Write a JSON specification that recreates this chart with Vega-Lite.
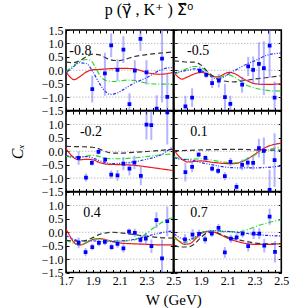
{
"$schema":"https://vega.github.io/schema/vega-lite/v6.json",
"padding":{"left":8,"top":2,"right":2,"bottom":2},
"title":{"text":"p (γ⃗ , K⁺ ) Σ⃗⁰","font":"Liberation Serif, DejaVu Sans, Noto Sans","fontSize":16,"fontWeight":"normal","color":"black","offset":5,"anchor":"middle"},
"config":{"view":{"stroke":"black","strokeWidth":1.6},"axis":{"domain":false,"grid":false,"tickColor":"black","tickWidth":1,"tickSize":-3,"labelFont":"Liberation Serif","labelFontSize":12,"labelColor":"black","labelFlush":false,"labelOverlap":false,"labelPadding":6,"titleFont":"Liberation Serif","titleFontSize":15,"titleFontWeight":"normal","titleColor":"black"}},
"datasets":{
"grid":[{"g":-1},{"g":0},{"g":1}],
"points":[
{"p":"-0.8","W":1.896,"C":-0.70,"lo":-1.2,"hi":-0.2},
{"p":"-0.8","W":1.99,"C":-0.12,"lo":-0.95,"hi":0.65},
{"p":"-0.8","W":2.037,"C":0.93,"lo":0.48,"hi":1.38},
{"p":"-0.8","W":2.084,"C":0.01,"lo":-0.39,"hi":0.41},
{"p":"-0.8","W":2.128,"C":0.77,"lo":0.27,"hi":1.27},
{"p":"-0.8","W":2.173,"C":-1.26,"lo":-1.66,"hi":-0.86},
{"p":"-0.8","W":2.213,"C":-0.01,"lo":-0.39,"hi":0.37},
{"p":"-0.8","W":2.255,"C":1.17,"lo":0.72,"hi":1.62},
{"p":"-0.8","W":2.30,"C":-0.08,"lo":-0.53,"hi":0.37},
{"p":"-0.8","W":2.376,"C":-1.43,"lo":-1.93,"hi":-0.93},
{"p":"-0.8","W":2.416,"C":0.43,"lo":-1.2,"hi":2.0},
{"p":"-0.8","W":2.455,"C":-0.99,"lo":-1.84,"hi":-0.14},
{"p":"-0.5","W":1.785,"C":-1.35,"lo":-1.75,"hi":-0.95},
{"p":"-0.5","W":1.835,"C":-1.02,"lo":-1.37,"hi":-0.67},
{"p":"-0.5","W":1.892,"C":-0.01,"lo":-0.13,"hi":0.11},
{"p":"-0.5","W":1.94,"C":-0.17,"lo":-0.29,"hi":-0.05},
{"p":"-0.5","W":1.984,"C":-0.48,"lo":-0.66,"hi":-0.30},
{"p":"-0.5","W":2.034,"C":-0.39,"lo":-0.64,"hi":-0.14},
{"p":"-0.5","W":2.08,"C":-1.0,"lo":-1.5,"hi":-0.5},
{"p":"-0.5","W":2.12,"C":-1.25,"lo":-1.55,"hi":-0.95},
{"p":"-0.5","W":2.208,"C":-0.54,"lo":-0.84,"hi":-0.24},
{"p":"-0.5","W":2.253,"C":0.14,"lo":-0.21,"hi":0.49},
{"p":"-0.5","W":2.29,"C":0.01,"lo":-0.49,"hi":0.51},
{"p":"-0.5","W":2.333,"C":0.24,"lo":-0.56,"hi":1.04},
{"p":"-0.5","W":2.37,"C":0.08,"lo":-0.92,"hi":1.08},
{"p":"-0.5","W":2.413,"C":0.92,"lo":-0.28,"hi":2.12},
{"p":"-0.5","W":2.45,"C":-1.02,"lo":-1.62,"hi":-0.42},
{"p":"-0.2","W":1.794,"C":-0.25,"lo":-0.5,"hi":0.0},
{"p":"-0.2","W":1.849,"C":-0.98,"lo":-1.13,"hi":-0.83},
{"p":"-0.2","W":1.893,"C":-0.43,"lo":-0.53,"hi":-0.33},
{"p":"-0.2","W":1.942,"C":-0.02,"lo":-0.12,"hi":0.08},
{"p":"-0.2","W":1.992,"C":-0.31,"lo":-0.41,"hi":-0.21},
{"p":"-0.2","W":2.037,"C":-0.87,"lo":-1.02,"hi":-0.72},
{"p":"-0.2","W":2.084,"C":-0.90,"lo":-1.1,"hi":-0.7},
{"p":"-0.2","W":2.128,"C":-0.46,"lo":-0.71,"hi":-0.21},
{"p":"-0.2","W":2.173,"C":-0.65,"lo":-0.9,"hi":-0.4},
{"p":"-0.2","W":2.21,"C":-0.42,"lo":-0.67,"hi":-0.17},
{"p":"-0.2","W":2.258,"C":-0.92,"lo":-1.27,"hi":-0.57},
{"p":"-0.2","W":2.30,"C":0.99,"lo":0.44,"hi":1.54},
{"p":"-0.2","W":2.336,"C":0.97,"lo":0.42,"hi":1.52},
{"p":"-0.2","W":2.455,"C":1.45,"lo":0.25,"hi":2.65},
{"p":"0.1","W":1.785,"C":-0.78,"lo":-1.13,"hi":-0.43},
{"p":"0.1","W":1.835,"C":-0.58,"lo":-0.78,"hi":-0.38},
{"p":"0.1","W":1.884,"C":-0.13,"lo":-0.23,"hi":-0.03},
{"p":"0.1","W":1.934,"C":-0.25,"lo":-0.35,"hi":-0.15},
{"p":"0.1","W":1.984,"C":-0.65,"lo":-0.75,"hi":-0.55},
{"p":"0.1","W":2.029,"C":-0.73,"lo":-0.85,"hi":-0.61},
{"p":"0.1","W":2.079,"C":-0.93,"lo":-1.08,"hi":-0.78},
{"p":"0.1","W":2.121,"C":-0.40,"lo":-0.55,"hi":-0.25},
{"p":"0.1","W":2.166,"C":-1.33,"lo":-1.48,"hi":-1.18},
{"p":"0.1","W":2.208,"C":-0.51,"lo":-0.71,"hi":-0.31},
{"p":"0.1","W":2.25,"C":-0.42,"lo":-0.62,"hi":-0.22},
{"p":"0.1","W":2.29,"C":-0.43,"lo":-0.68,"hi":-0.18},
{"p":"0.1","W":2.333,"C":0.12,"lo":-0.23,"hi":0.47},
{"p":"0.1","W":2.37,"C":0.01,"lo":-0.49,"hi":0.51},
{"p":"0.1","W":2.413,"C":-1.44,"lo":-2.19,"hi":-0.69},
{"p":"0.1","W":2.45,"C":-0.33,"lo":-1.33,"hi":0.67},
{"p":"0.4","W":1.794,"C":-0.40,"lo":-0.6,"hi":-0.2},
{"p":"0.4","W":1.846,"C":-0.74,"lo":-0.89,"hi":-0.59},
{"p":"0.4","W":1.896,"C":-0.55,"lo":-0.67,"hi":-0.43},
{"p":"0.4","W":1.945,"C":-0.40,"lo":-0.52,"hi":-0.28},
{"p":"0.4","W":1.99,"C":-0.36,"lo":-0.48,"hi":-0.24},
{"p":"0.4","W":2.04,"C":-0.55,"lo":-0.67,"hi":-0.43},
{"p":"0.4","W":2.084,"C":-0.43,"lo":-0.58,"hi":-0.28},
{"p":"0.4","W":2.128,"C":-0.60,"lo":-0.75,"hi":-0.45},
{"p":"0.4","W":2.17,"C":0.02,"lo":-0.1,"hi":0.14},
{"p":"0.4","W":2.213,"C":-0.02,"lo":-0.17,"hi":0.13},
{"p":"0.4","W":2.255,"C":-0.28,"lo":-0.43,"hi":-0.13},
{"p":"0.4","W":2.295,"C":-0.24,"lo":-0.44,"hi":-0.04},
{"p":"0.4","W":2.337,"C":-0.52,"lo":-0.77,"hi":-0.27},
{"p":"0.4","W":2.374,"C":0.45,"lo":0.15,"hi":0.75},
{"p":"0.4","W":2.416,"C":-0.97,"lo":-1.67,"hi":-0.27},
{"p":"0.4","W":2.455,"C":0.41,"lo":-0.14,"hi":0.96},
{"p":"0.7","W":1.782,"C":-0.27,"lo":-0.47,"hi":-0.07},
{"p":"0.7","W":1.838,"C":-0.09,"lo":-0.29,"hi":0.11},
{"p":"0.7","W":1.887,"C":-0.06,"lo":-0.21,"hi":0.09},
{"p":"0.7","W":1.932,"C":-0.27,"lo":-0.42,"hi":-0.12},
{"p":"0.7","W":1.982,"C":-0.05,"lo":-0.17,"hi":0.07},
{"p":"0.7","W":2.032,"C":0.16,"lo":0.01,"hi":0.31},
{"p":"0.7","W":2.079,"C":-0.75,"lo":-0.95,"hi":-0.55},
{"p":"0.7","W":2.124,"C":-0.24,"lo":-0.39,"hi":-0.09},
{"p":"0.7","W":2.167,"C":-0.19,"lo":-0.34,"hi":-0.04},
{"p":"0.7","W":2.211,"C":-0.05,"lo":-0.2,"hi":0.1},
{"p":"0.7","W":2.253,"C":-0.52,"lo":-0.72,"hi":-0.32},
{"p":"0.7","W":2.294,"C":-0.05,"lo":-0.25,"hi":0.15},
{"p":"0.7","W":2.336,"C":-0.05,"lo":-0.25,"hi":0.15},
{"p":"0.7","W":2.373,"C":-0.50,"lo":-0.75,"hi":-0.25},
{"p":"0.7","W":2.413,"C":0.58,"lo":0.28,"hi":0.88},
{"p":"0.7","W":2.453,"C":-0.73,"lo":-1.13,"hi":-0.33}
],
"curves":[
{"p":"-0.8","m":"m1","W":1.70,"C":-0.05},{"p":"-0.8","m":"m1","W":1.73,"C":-0.25},{"p":"-0.8","m":"m1","W":1.76,"C":-0.35},{"p":"-0.8","m":"m1","W":1.80,"C":-0.25},{"p":"-0.8","m":"m1","W":1.85,"C":-0.07},{"p":"-0.8","m":"m1","W":1.90,"C":0.02},{"p":"-0.8","m":"m1","W":1.95,"C":0.03},{"p":"-0.8","m":"m1","W":2.00,"C":0.05},{"p":"-0.8","m":"m1","W":2.10,"C":0.07},{"p":"-0.8","m":"m1","W":2.20,"C":0.06},{"p":"-0.8","m":"m1","W":2.25,"C":0.0},{"p":"-0.8","m":"m1","W":2.30,"C":-0.08},{"p":"-0.8","m":"m1","W":2.40,"C":-0.15},{"p":"-0.8","m":"m1","W":2.50,"C":-0.08},
{"p":"-0.8","m":"m2","W":1.70,"C":-0.05},{"p":"-0.8","m":"m2","W":1.75,"C":0.15},{"p":"-0.8","m":"m2","W":1.80,"C":0.32},{"p":"-0.8","m":"m2","W":1.85,"C":0.40},{"p":"-0.8","m":"m2","W":1.88,"C":0.38},{"p":"-0.8","m":"m2","W":1.92,"C":0.1},{"p":"-0.8","m":"m2","W":1.96,"C":-0.25},{"p":"-0.8","m":"m2","W":2.00,"C":-0.38},{"p":"-0.8","m":"m2","W":2.05,"C":-0.42},{"p":"-0.8","m":"m2","W":2.10,"C":-0.40},{"p":"-0.8","m":"m2","W":2.15,"C":-0.37},{"p":"-0.8","m":"m2","W":2.20,"C":-0.38},{"p":"-0.8","m":"m2","W":2.25,"C":-0.42},{"p":"-0.8","m":"m2","W":2.30,"C":-0.48},{"p":"-0.8","m":"m2","W":2.40,"C":-0.52},{"p":"-0.8","m":"m2","W":2.50,"C":-0.5},
{"p":"-0.8","m":"m3","W":1.70,"C":-0.1},{"p":"-0.8","m":"m3","W":1.75,"C":0.1},{"p":"-0.8","m":"m3","W":1.80,"C":0.28},{"p":"-0.8","m":"m3","W":1.85,"C":0.25},{"p":"-0.8","m":"m3","W":1.90,"C":-0.05},{"p":"-0.8","m":"m3","W":1.95,"C":-0.5},{"p":"-0.8","m":"m3","W":2.00,"C":-0.82},{"p":"-0.8","m":"m3","W":2.03,"C":-0.9},{"p":"-0.8","m":"m3","W":2.08,"C":-0.85},{"p":"-0.8","m":"m3","W":2.15,"C":-0.65},{"p":"-0.8","m":"m3","W":2.20,"C":-0.5},{"p":"-0.8","m":"m3","W":2.30,"C":-0.28},{"p":"-0.8","m":"m3","W":2.40,"C":0.0},{"p":"-0.8","m":"m3","W":2.45,"C":0.08},{"p":"-0.8","m":"m3","W":2.50,"C":0.1},
{"p":"-0.8","m":"m4","W":1.70,"C":0.3},{"p":"-0.8","m":"m4","W":1.75,"C":0.28},{"p":"-0.8","m":"m4","W":1.80,"C":0.35},{"p":"-0.8","m":"m4","W":1.85,"C":0.5},{"p":"-0.8","m":"m4","W":1.90,"C":0.6},{"p":"-0.8","m":"m4","W":1.95,"C":0.57},{"p":"-0.8","m":"m4","W":2.00,"C":0.45},{"p":"-0.8","m":"m4","W":2.05,"C":0.37},{"p":"-0.8","m":"m4","W":2.10,"C":0.36},{"p":"-0.8","m":"m4","W":2.15,"C":0.42},{"p":"-0.8","m":"m4","W":2.20,"C":0.5},{"p":"-0.8","m":"m4","W":2.30,"C":0.58},{"p":"-0.8","m":"m4","W":2.40,"C":0.64},{"p":"-0.8","m":"m4","W":2.50,"C":0.68},
{"p":"-0.5","m":"m1","W":1.70,"C":-0.08},{"p":"-0.5","m":"m1","W":1.73,"C":-0.25},{"p":"-0.5","m":"m1","W":1.76,"C":-0.33},{"p":"-0.5","m":"m1","W":1.80,"C":-0.25},{"p":"-0.5","m":"m1","W":1.85,"C":-0.14},{"p":"-0.5","m":"m1","W":1.90,"C":-0.08},{"p":"-0.5","m":"m1","W":1.95,"C":-0.13},{"p":"-0.5","m":"m1","W":2.00,"C":-0.24},{"p":"-0.5","m":"m1","W":2.03,"C":-0.25},{"p":"-0.5","m":"m1","W":2.07,"C":-0.15},{"p":"-0.5","m":"m1","W":2.11,"C":-0.08},{"p":"-0.5","m":"m1","W":2.15,"C":-0.12},{"p":"-0.5","m":"m1","W":2.20,"C":-0.27},{"p":"-0.5","m":"m1","W":2.25,"C":-0.4},{"p":"-0.5","m":"m1","W":2.30,"C":-0.5},{"p":"-0.5","m":"m1","W":2.40,"C":-0.53},{"p":"-0.5","m":"m1","W":2.50,"C":-0.5},
{"p":"-0.5","m":"m2","W":1.70,"C":-0.15},{"p":"-0.5","m":"m2","W":1.75,"C":-0.05},{"p":"-0.5","m":"m2","W":1.80,"C":0.07},{"p":"-0.5","m":"m2","W":1.85,"C":0.14},{"p":"-0.5","m":"m2","W":1.88,"C":0.14},{"p":"-0.5","m":"m2","W":1.92,"C":0.05},{"p":"-0.5","m":"m2","W":1.96,"C":-0.12},{"p":"-0.5","m":"m2","W":2.00,"C":-0.23},{"p":"-0.5","m":"m2","W":2.04,"C":-0.27},{"p":"-0.5","m":"m2","W":2.08,"C":-0.2},{"p":"-0.5","m":"m2","W":2.11,"C":-0.17},{"p":"-0.5","m":"m2","W":2.15,"C":-0.25},{"p":"-0.5","m":"m2","W":2.20,"C":-0.42},{"p":"-0.5","m":"m2","W":2.25,"C":-0.58},{"p":"-0.5","m":"m2","W":2.30,"C":-0.66},{"p":"-0.5","m":"m2","W":2.40,"C":-0.75},{"p":"-0.5","m":"m2","W":2.50,"C":-0.78},
{"p":"-0.5","m":"m3","W":1.70,"C":-0.1},{"p":"-0.5","m":"m3","W":1.75,"C":-0.05},{"p":"-0.5","m":"m3","W":1.80,"C":0.0},{"p":"-0.5","m":"m3","W":1.85,"C":0.05},{"p":"-0.5","m":"m3","W":1.90,"C":0.0},{"p":"-0.5","m":"m3","W":1.95,"C":-0.15},{"p":"-0.5","m":"m3","W":2.00,"C":-0.3},{"p":"-0.5","m":"m3","W":2.03,"C":-0.33},{"p":"-0.5","m":"m3","W":2.07,"C":-0.25},{"p":"-0.5","m":"m3","W":2.12,"C":-0.1},{"p":"-0.5","m":"m3","W":2.17,"C":0.04},{"p":"-0.5","m":"m3","W":2.25,"C":0.25},{"p":"-0.5","m":"m3","W":2.30,"C":0.35},{"p":"-0.5","m":"m3","W":2.40,"C":0.57},{"p":"-0.5","m":"m3","W":2.50,"C":0.64},
{"p":"-0.5","m":"m4","W":1.70,"C":0.35},{"p":"-0.5","m":"m4","W":1.75,"C":0.33},{"p":"-0.5","m":"m4","W":1.80,"C":0.3},{"p":"-0.5","m":"m4","W":1.85,"C":0.3},{"p":"-0.5","m":"m4","W":1.90,"C":0.2},{"p":"-0.5","m":"m4","W":1.95,"C":-0.05},{"p":"-0.5","m":"m4","W":2.00,"C":-0.25},{"p":"-0.5","m":"m4","W":2.05,"C":-0.37},{"p":"-0.5","m":"m4","W":2.10,"C":-0.42},{"p":"-0.5","m":"m4","W":2.15,"C":-0.43},{"p":"-0.5","m":"m4","W":2.20,"C":-0.4},{"p":"-0.5","m":"m4","W":2.30,"C":-0.33},{"p":"-0.5","m":"m4","W":2.40,"C":-0.27},{"p":"-0.5","m":"m4","W":2.50,"C":-0.2},
{"p":"-0.2","m":"m1","W":1.70,"C":0.1},{"p":"-0.2","m":"m1","W":1.73,"C":-0.1},{"p":"-0.2","m":"m1","W":1.76,"C":-0.25},{"p":"-0.2","m":"m1","W":1.80,"C":-0.32},{"p":"-0.2","m":"m1","W":1.85,"C":-0.3},{"p":"-0.2","m":"m1","W":1.90,"C":-0.32},{"p":"-0.2","m":"m1","W":1.95,"C":-0.42},{"p":"-0.2","m":"m1","W":2.00,"C":-0.48},{"p":"-0.2","m":"m1","W":2.10,"C":-0.5},{"p":"-0.2","m":"m1","W":2.20,"C":-0.52},{"p":"-0.2","m":"m1","W":2.30,"C":-0.58},{"p":"-0.2","m":"m1","W":2.40,"C":-0.65},{"p":"-0.2","m":"m1","W":2.50,"C":-0.72},
{"p":"-0.2","m":"m2","W":1.70,"C":-0.2},{"p":"-0.2","m":"m2","W":1.80,"C":-0.22},{"p":"-0.2","m":"m2","W":1.85,"C":-0.18},{"p":"-0.2","m":"m2","W":1.90,"C":-0.15},{"p":"-0.2","m":"m2","W":1.95,"C":-0.2},{"p":"-0.2","m":"m2","W":2.00,"C":-0.27},{"p":"-0.2","m":"m2","W":2.10,"C":-0.28},{"p":"-0.2","m":"m2","W":2.20,"C":-0.25},{"p":"-0.2","m":"m2","W":2.30,"C":-0.2},{"p":"-0.2","m":"m2","W":2.40,"C":-0.14},{"p":"-0.2","m":"m2","W":2.50,"C":-0.1},
{"p":"-0.2","m":"m3","W":1.70,"C":-0.15},{"p":"-0.2","m":"m3","W":1.75,"C":-0.22},{"p":"-0.2","m":"m3","W":1.80,"C":-0.22},{"p":"-0.2","m":"m3","W":1.85,"C":-0.2},{"p":"-0.2","m":"m3","W":1.90,"C":-0.25},{"p":"-0.2","m":"m3","W":1.95,"C":-0.35},{"p":"-0.2","m":"m3","W":2.00,"C":-0.43},{"p":"-0.2","m":"m3","W":2.05,"C":-0.46},{"p":"-0.2","m":"m3","W":2.10,"C":-0.45},{"p":"-0.2","m":"m3","W":2.20,"C":-0.4},{"p":"-0.2","m":"m3","W":2.30,"C":-0.3},{"p":"-0.2","m":"m3","W":2.40,"C":-0.15},{"p":"-0.2","m":"m3","W":2.45,"C":0.0},{"p":"-0.2","m":"m3","W":2.50,"C":0.18},
{"p":"-0.2","m":"m4","W":1.70,"C":0.18},{"p":"-0.2","m":"m4","W":1.80,"C":0.17},{"p":"-0.2","m":"m4","W":1.90,"C":0.15},{"p":"-0.2","m":"m4","W":1.95,"C":0.08},{"p":"-0.2","m":"m4","W":2.00,"C":-0.02},{"p":"-0.2","m":"m4","W":2.05,"C":-0.07},{"p":"-0.2","m":"m4","W":2.10,"C":-0.07},{"p":"-0.2","m":"m4","W":2.20,"C":-0.04},{"p":"-0.2","m":"m4","W":2.30,"C":-0.01},{"p":"-0.2","m":"m4","W":2.40,"C":0.03},{"p":"-0.2","m":"m4","W":2.50,"C":0.07},
{"p":"0.1","m":"m1","W":1.70,"C":0.05},{"p":"0.1","m":"m1","W":1.73,"C":-0.15},{"p":"0.1","m":"m1","W":1.76,"C":-0.3},{"p":"0.1","m":"m1","W":1.80,"C":-0.4},{"p":"0.1","m":"m1","W":1.85,"C":-0.38},{"p":"0.1","m":"m1","W":1.90,"C":-0.36},{"p":"0.1","m":"m1","W":2.00,"C":-0.42},{"p":"0.1","m":"m1","W":2.10,"C":-0.46},{"p":"0.1","m":"m1","W":2.15,"C":-0.46},{"p":"0.1","m":"m1","W":2.20,"C":-0.4},{"p":"0.1","m":"m1","W":2.25,"C":-0.28},{"p":"0.1","m":"m1","W":2.30,"C":-0.12},{"p":"0.1","m":"m1","W":2.35,"C":0.05},{"p":"0.1","m":"m1","W":2.40,"C":0.18},{"p":"0.1","m":"m1","W":2.50,"C":0.3},
{"p":"0.1","m":"m2","W":1.70,"C":-0.2},{"p":"0.1","m":"m2","W":1.75,"C":-0.28},{"p":"0.1","m":"m2","W":1.80,"C":-0.3},{"p":"0.1","m":"m2","W":1.90,"C":-0.28},{"p":"0.1","m":"m2","W":2.00,"C":-0.35},{"p":"0.1","m":"m2","W":2.10,"C":-0.42},{"p":"0.1","m":"m2","W":2.15,"C":-0.43},{"p":"0.1","m":"m2","W":2.20,"C":-0.38},{"p":"0.1","m":"m2","W":2.30,"C":-0.15},{"p":"0.1","m":"m2","W":2.40,"C":0.05},{"p":"0.1","m":"m2","W":2.50,"C":0.16},
{"p":"0.1","m":"m3","W":1.70,"C":-0.25},{"p":"0.1","m":"m3","W":1.75,"C":-0.3},{"p":"0.1","m":"m3","W":1.80,"C":-0.32},{"p":"0.1","m":"m3","W":1.85,"C":-0.35},{"p":"0.1","m":"m3","W":1.90,"C":-0.42},{"p":"0.1","m":"m3","W":2.00,"C":-0.52},{"p":"0.1","m":"m3","W":2.10,"C":-0.6},{"p":"0.1","m":"m3","W":2.20,"C":-0.62},{"p":"0.1","m":"m3","W":2.30,"C":-0.62},{"p":"0.1","m":"m3","W":2.40,"C":-0.6},{"p":"0.1","m":"m3","W":2.50,"C":-0.55},
{"p":"0.1","m":"m4","W":1.70,"C":0.02},{"p":"0.1","m":"m4","W":1.80,"C":0.03},{"p":"0.1","m":"m4","W":1.90,"C":0.05},{"p":"0.1","m":"m4","W":2.00,"C":0.06},{"p":"0.1","m":"m4","W":2.10,"C":0.07},{"p":"0.1","m":"m4","W":2.20,"C":0.07},{"p":"0.1","m":"m4","W":2.30,"C":0.05},{"p":"0.1","m":"m4","W":2.40,"C":0.04},{"p":"0.1","m":"m4","W":2.50,"C":0.04},
{"p":"0.4","m":"m1","W":1.70,"C":0.12},{"p":"0.4","m":"m1","W":1.73,"C":-0.15},{"p":"0.4","m":"m1","W":1.76,"C":-0.38},{"p":"0.4","m":"m1","W":1.80,"C":-0.48},{"p":"0.4","m":"m1","W":1.85,"C":-0.4},{"p":"0.4","m":"m1","W":1.90,"C":-0.27},{"p":"0.4","m":"m1","W":1.95,"C":-0.24},{"p":"0.4","m":"m1","W":2.00,"C":-0.28},{"p":"0.4","m":"m1","W":2.05,"C":-0.35},{"p":"0.4","m":"m1","W":2.10,"C":-0.4},{"p":"0.4","m":"m1","W":2.20,"C":-0.43},{"p":"0.4","m":"m1","W":2.30,"C":-0.45},{"p":"0.4","m":"m1","W":2.40,"C":-0.47},{"p":"0.4","m":"m1","W":2.50,"C":-0.47},
{"p":"0.4","m":"m2","W":1.70,"C":-0.3},{"p":"0.4","m":"m2","W":1.75,"C":-0.4},{"p":"0.4","m":"m2","W":1.80,"C":-0.48},{"p":"0.4","m":"m2","W":1.85,"C":-0.38},{"p":"0.4","m":"m2","W":1.90,"C":-0.27},{"p":"0.4","m":"m2","W":1.95,"C":-0.25},{"p":"0.4","m":"m2","W":2.00,"C":-0.3},{"p":"0.4","m":"m2","W":2.10,"C":-0.33},{"p":"0.4","m":"m2","W":2.20,"C":-0.3},{"p":"0.4","m":"m2","W":2.25,"C":-0.2},{"p":"0.4","m":"m2","W":2.30,"C":-0.05},{"p":"0.4","m":"m2","W":2.35,"C":0.15},{"p":"0.4","m":"m2","W":2.40,"C":0.32},{"p":"0.4","m":"m2","W":2.45,"C":0.47},{"p":"0.4","m":"m2","W":2.50,"C":0.55},
{"p":"0.4","m":"m3","W":1.70,"C":-0.12},{"p":"0.4","m":"m3","W":1.75,"C":-0.25},{"p":"0.4","m":"m3","W":1.80,"C":-0.32},{"p":"0.4","m":"m3","W":1.90,"C":-0.32},{"p":"0.4","m":"m3","W":2.00,"C":-0.35},{"p":"0.4","m":"m3","W":2.10,"C":-0.33},{"p":"0.4","m":"m3","W":2.20,"C":-0.27},{"p":"0.4","m":"m3","W":2.30,"C":-0.15},{"p":"0.4","m":"m3","W":2.40,"C":-0.03},{"p":"0.4","m":"m3","W":2.50,"C":0.05},
{"p":"0.4","m":"m4","W":1.70,"C":-0.3},{"p":"0.4","m":"m4","W":1.80,"C":-0.33},{"p":"0.4","m":"m4","W":1.85,"C":-0.3},{"p":"0.4","m":"m4","W":1.90,"C":-0.2},{"p":"0.4","m":"m4","W":1.95,"C":-0.08},{"p":"0.4","m":"m4","W":2.00,"C":-0.02},{"p":"0.4","m":"m4","W":2.05,"C":0.0},{"p":"0.4","m":"m4","W":2.10,"C":-0.02},{"p":"0.4","m":"m4","W":2.20,"C":-0.08},{"p":"0.4","m":"m4","W":2.30,"C":-0.15},{"p":"0.4","m":"m4","W":2.40,"C":-0.2},{"p":"0.4","m":"m4","W":2.50,"C":-0.22},
{"p":"0.7","m":"m1","W":1.70,"C":-0.15},{"p":"0.7","m":"m1","W":1.75,"C":-0.38},{"p":"0.7","m":"m1","W":1.78,"C":-0.45},{"p":"0.7","m":"m1","W":1.82,"C":-0.42},{"p":"0.7","m":"m1","W":1.86,"C":-0.25},{"p":"0.7","m":"m1","W":1.90,"C":-0.05},{"p":"0.7","m":"m1","W":1.95,"C":0.02},{"p":"0.7","m":"m1","W":2.00,"C":0.0},{"p":"0.7","m":"m1","W":2.05,"C":-0.1},{"p":"0.7","m":"m1","W":2.10,"C":-0.22},{"p":"0.7","m":"m1","W":2.20,"C":-0.38},{"p":"0.7","m":"m1","W":2.30,"C":-0.45},{"p":"0.7","m":"m1","W":2.40,"C":-0.45},{"p":"0.7","m":"m1","W":2.50,"C":-0.42},
{"p":"0.7","m":"m2","W":1.70,"C":-0.22},{"p":"0.7","m":"m2","W":1.75,"C":-0.35},{"p":"0.7","m":"m2","W":1.78,"C":-0.38},{"p":"0.7","m":"m2","W":1.82,"C":-0.32},{"p":"0.7","m":"m2","W":1.86,"C":-0.18},{"p":"0.7","m":"m2","W":1.90,"C":-0.02},{"p":"0.7","m":"m2","W":1.95,"C":0.04},{"p":"0.7","m":"m2","W":2.00,"C":0.04},{"p":"0.7","m":"m2","W":2.10,"C":0.02},{"p":"0.7","m":"m2","W":2.20,"C":0.02},{"p":"0.7","m":"m2","W":2.25,"C":0.1},{"p":"0.7","m":"m2","W":2.30,"C":0.2},{"p":"0.7","m":"m2","W":2.40,"C":0.35},{"p":"0.7","m":"m2","W":2.50,"C":0.47},
{"p":"0.7","m":"m3","W":1.70,"C":-0.05},{"p":"0.7","m":"m3","W":1.75,"C":-0.22},{"p":"0.7","m":"m3","W":1.80,"C":-0.28},{"p":"0.7","m":"m3","W":1.85,"C":-0.2},{"p":"0.7","m":"m3","W":1.90,"C":-0.03},{"p":"0.7","m":"m3","W":1.95,"C":0.04},{"p":"0.7","m":"m3","W":2.00,"C":0.06},{"p":"0.7","m":"m3","W":2.10,"C":0.03},{"p":"0.7","m":"m3","W":2.20,"C":-0.02},{"p":"0.7","m":"m3","W":2.30,"C":-0.08},{"p":"0.7","m":"m3","W":2.40,"C":-0.12},{"p":"0.7","m":"m3","W":2.50,"C":-0.14},
{"p":"0.7","m":"m4","W":1.70,"C":-0.48},{"p":"0.7","m":"m4","W":1.75,"C":-0.55},{"p":"0.7","m":"m4","W":1.80,"C":-0.55},{"p":"0.7","m":"m4","W":1.85,"C":-0.45},{"p":"0.7","m":"m4","W":1.90,"C":-0.2},{"p":"0.7","m":"m4","W":1.95,"C":-0.02},{"p":"0.7","m":"m4","W":2.00,"C":0.0},{"p":"0.7","m":"m4","W":2.05,"C":-0.08},{"p":"0.7","m":"m4","W":2.10,"C":-0.18},{"p":"0.7","m":"m4","W":2.20,"C":-0.3},{"p":"0.7","m":"m4","W":2.30,"C":-0.4},{"p":"0.7","m":"m4","W":2.40,"C":-0.43},{"p":"0.7","m":"m4","W":2.50,"C":-0.43}
]},
"columns":2,"spacing":0,"bounds":"flush",
"concat":[
{"width":107.3,"height":80.5,"layer":[
{"data":{"name":"grid"},"mark":{"type":"rule","color":"#8a8a8a","strokeDash":[1,2],"strokeWidth":0.8},"encoding":{"y":{"field":"g","type":"quantitative","scale":{"domain":[-1.5,1.5],"nice":false,"zero":false},"axis":null}}},
{"data":{"name":"curves"},"transform":[{"filter":"datum.p=='-0.8'"}],"mark":{"type":"line","interpolate":"monotone","strokeWidth":1.2,"clip":true},"encoding":{"x":{"field":"W","type":"quantitative","scale":{"domain":[1.7,2.5],"nice":false,"zero":false},"axis":{"orient":"bottom","values":[1.7,1.75,1.8,1.85,1.9,1.95,2.0,2.05,2.1,2.15,2.2,2.25,2.3,2.35,2.4,2.45,2.5],"labels":false,"title":null}},"y":{"field":"C","type":"quantitative","scale":{"domain":[-1.5,1.5],"nice":false,"zero":false},"axis":{"orient":"left","values":[-1.5,-1,-0.5,0,0.5,1,1.5],"title":null,"labelExpr":"format(datum.value,'.1f')"}},"color":{"field":"m","type":"nominal","scale":{"domain":["m1","m2","m3","m4"],"range":["#f01818","#22dd22","#2a2aff","#333333"]},"legend":null},"strokeDash":{"field":"m","type":"nominal","scale":{"domain":["m1","m2","m3","m4"],"range":[[1,0],[5,2,1,2],[3,1.5,1,1.5,1,1.5],[5,3]]},"legend":null}}},
{"data":{"name":"points"},"transform":[{"filter":"datum.p=='-0.8'"}],"mark":{"type":"rule","color":"#5a5aff","opacity":0.45,"strokeWidth":2,"clip":true},"encoding":{"x":{"field":"W","type":"quantitative","scale":{"domain":[1.7,2.5],"nice":false,"zero":false},"axis":{"orient":"top","values":[1.7,1.75,1.8,1.85,1.9,1.95,2.0,2.05,2.1,2.15,2.2,2.25,2.3,2.35,2.4,2.45,2.5],"labels":false,"title":null}},"y":{"field":"lo","type":"quantitative","scale":{"domain":[-1.5,1.5],"nice":false,"zero":false},"axis":{"orient":"right","values":[-1.5,-1,-0.5,0,0.5,1,1.5],"labels":false,"title":null}},"y2":{"field":"hi"}}},
{"data":{"name":"points"},"transform":[{"filter":"datum.p=='-0.8'"}],"mark":{"type":"square","color":"#0000ff","size":14,"opacity":1,"clip":true},"encoding":{"x":{"field":"W","type":"quantitative","scale":{"domain":[1.7,2.5],"nice":false,"zero":false},"axis":null},"y":{"field":"C","type":"quantitative","scale":{"domain":[-1.5,1.5],"nice":false,"zero":false},"axis":null}}},
{"data":{"values":[{"label":"-0.8"}]},"mark":{"type":"text","font":"Liberation Serif","fontSize":14,"align":"left","baseline":"middle","color":"black"},"encoding":{"x":{"datum":1.725,"type":"quantitative","scale":{"domain":[1.7,2.5],"nice":false,"zero":false},"axis":null},"y":{"datum":0.7,"type":"quantitative","scale":{"domain":[-1.5,1.5],"nice":false,"zero":false},"axis":null},"text":{"field":"label"}}}
],"resolve":{"axis":{"x":"independent","y":"independent"}}},
{"width":107.3,"height":80.5,"layer":[
{"data":{"name":"grid"},"mark":{"type":"rule","color":"#8a8a8a","strokeDash":[1,2],"strokeWidth":0.8},"encoding":{"y":{"field":"g","type":"quantitative","scale":{"domain":[-1.5,1.5],"nice":false,"zero":false},"axis":null}}},
{"data":{"name":"curves"},"transform":[{"filter":"datum.p=='-0.5'"}],"mark":{"type":"line","interpolate":"monotone","strokeWidth":1.2,"clip":true},"encoding":{"x":{"field":"W","type":"quantitative","scale":{"domain":[1.7,2.5],"nice":false,"zero":false},"axis":{"orient":"bottom","values":[1.7,1.75,1.8,1.85,1.9,1.95,2.0,2.05,2.1,2.15,2.2,2.25,2.3,2.35,2.4,2.45,2.5],"labels":false,"title":null}},"y":{"field":"C","type":"quantitative","scale":{"domain":[-1.5,1.5],"nice":false,"zero":false},"axis":{"orient":"left","values":[-1.5,-1,-0.5,0,0.5,1,1.5],"labels":false,"title":null}},"color":{"field":"m","type":"nominal","scale":{"domain":["m1","m2","m3","m4"],"range":["#f01818","#22dd22","#2a2aff","#333333"]},"legend":null},"strokeDash":{"field":"m","type":"nominal","scale":{"domain":["m1","m2","m3","m4"],"range":[[1,0],[5,2,1,2],[3,1.5,1,1.5,1,1.5],[5,3]]},"legend":null}}},
{"data":{"name":"points"},"transform":[{"filter":"datum.p=='-0.5'"}],"mark":{"type":"rule","color":"#5a5aff","opacity":0.45,"strokeWidth":2,"clip":true},"encoding":{"x":{"field":"W","type":"quantitative","scale":{"domain":[1.7,2.5],"nice":false,"zero":false},"axis":{"orient":"top","values":[1.7,1.75,1.8,1.85,1.9,1.95,2.0,2.05,2.1,2.15,2.2,2.25,2.3,2.35,2.4,2.45,2.5],"labels":false,"title":null}},"y":{"field":"lo","type":"quantitative","scale":{"domain":[-1.5,1.5],"nice":false,"zero":false},"axis":{"orient":"right","values":[-1.5,-1,-0.5,0,0.5,1,1.5],"labels":false,"title":null}},"y2":{"field":"hi"}}},
{"data":{"name":"points"},"transform":[{"filter":"datum.p=='-0.5'"}],"mark":{"type":"square","color":"#0000ff","size":14,"opacity":1,"clip":true},"encoding":{"x":{"field":"W","type":"quantitative","scale":{"domain":[1.7,2.5],"nice":false,"zero":false},"axis":null},"y":{"field":"C","type":"quantitative","scale":{"domain":[-1.5,1.5],"nice":false,"zero":false},"axis":null}}},
{"data":{"values":[{"label":"-0.5"}]},"mark":{"type":"text","font":"Liberation Serif","fontSize":14,"align":"left","baseline":"middle","color":"black"},"encoding":{"x":{"datum":1.797,"type":"quantitative","scale":{"domain":[1.7,2.5],"nice":false,"zero":false},"axis":null},"y":{"datum":0.7,"type":"quantitative","scale":{"domain":[-1.5,1.5],"nice":false,"zero":false},"axis":null},"text":{"field":"label"}}}
],"resolve":{"axis":{"x":"independent","y":"independent"}}},
{"width":107.3,"height":80.5,"layer":[
{"data":{"name":"grid"},"mark":{"type":"rule","color":"#8a8a8a","strokeDash":[1,2],"strokeWidth":0.8},"encoding":{"y":{"field":"g","type":"quantitative","scale":{"domain":[-1.5,1.5],"nice":false,"zero":false},"axis":null}}},
{"data":{"name":"curves"},"transform":[{"filter":"datum.p=='-0.2'"}],"mark":{"type":"line","interpolate":"monotone","strokeWidth":1.2,"clip":true},"encoding":{"x":{"field":"W","type":"quantitative","scale":{"domain":[1.7,2.5],"nice":false,"zero":false},"axis":{"orient":"bottom","values":[1.7,1.75,1.8,1.85,1.9,1.95,2.0,2.05,2.1,2.15,2.2,2.25,2.3,2.35,2.4,2.45,2.5],"labels":false,"title":null}},"y":{"field":"C","type":"quantitative","scale":{"domain":[-1.5,1.5],"nice":false,"zero":false},"axis":{"orient":"left","values":[-1.5,-1,-0.5,0,0.5,1,1.5],"title":"Cₓ","titleFontStyle":"italic","titleFontSize":16,"titlePadding":16,"labelExpr":"datum.value > 1.4 ? '' : format(datum.value,'.1f')"}},"color":{"field":"m","type":"nominal","scale":{"domain":["m1","m2","m3","m4"],"range":["#f01818","#22dd22","#2a2aff","#333333"]},"legend":null},"strokeDash":{"field":"m","type":"nominal","scale":{"domain":["m1","m2","m3","m4"],"range":[[1,0],[5,2,1,2],[3,1.5,1,1.5,1,1.5],[5,3]]},"legend":null}}},
{"data":{"name":"points"},"transform":[{"filter":"datum.p=='-0.2'"}],"mark":{"type":"rule","color":"#5a5aff","opacity":0.45,"strokeWidth":2,"clip":true},"encoding":{"x":{"field":"W","type":"quantitative","scale":{"domain":[1.7,2.5],"nice":false,"zero":false},"axis":{"orient":"top","values":[1.7,1.75,1.8,1.85,1.9,1.95,2.0,2.05,2.1,2.15,2.2,2.25,2.3,2.35,2.4,2.45,2.5],"labels":false,"title":null}},"y":{"field":"lo","type":"quantitative","scale":{"domain":[-1.5,1.5],"nice":false,"zero":false},"axis":{"orient":"right","values":[-1.5,-1,-0.5,0,0.5,1,1.5],"labels":false,"title":null}},"y2":{"field":"hi"}}},
{"data":{"name":"points"},"transform":[{"filter":"datum.p=='-0.2'"}],"mark":{"type":"square","color":"#0000ff","size":14,"opacity":1,"clip":true},"encoding":{"x":{"field":"W","type":"quantitative","scale":{"domain":[1.7,2.5],"nice":false,"zero":false},"axis":null},"y":{"field":"C","type":"quantitative","scale":{"domain":[-1.5,1.5],"nice":false,"zero":false},"axis":null}}},
{"data":{"values":[{"label":"-0.2"}]},"mark":{"type":"text","font":"Liberation Serif","fontSize":14,"align":"left","baseline":"middle","color":"black"},"encoding":{"x":{"datum":1.804,"type":"quantitative","scale":{"domain":[1.7,2.5],"nice":false,"zero":false},"axis":null},"y":{"datum":0.7,"type":"quantitative","scale":{"domain":[-1.5,1.5],"nice":false,"zero":false},"axis":null},"text":{"field":"label"}}}
],"resolve":{"axis":{"x":"independent","y":"independent"}}},
{"width":107.3,"height":80.5,"layer":[
{"data":{"name":"grid"},"mark":{"type":"rule","color":"#8a8a8a","strokeDash":[1,2],"strokeWidth":0.8},"encoding":{"y":{"field":"g","type":"quantitative","scale":{"domain":[-1.5,1.5],"nice":false,"zero":false},"axis":null}}},
{"data":{"name":"curves"},"transform":[{"filter":"datum.p=='0.1'"}],"mark":{"type":"line","interpolate":"monotone","strokeWidth":1.2,"clip":true},"encoding":{"x":{"field":"W","type":"quantitative","scale":{"domain":[1.7,2.5],"nice":false,"zero":false},"axis":{"orient":"bottom","values":[1.7,1.75,1.8,1.85,1.9,1.95,2.0,2.05,2.1,2.15,2.2,2.25,2.3,2.35,2.4,2.45,2.5],"labels":false,"title":null}},"y":{"field":"C","type":"quantitative","scale":{"domain":[-1.5,1.5],"nice":false,"zero":false},"axis":{"orient":"left","values":[-1.5,-1,-0.5,0,0.5,1,1.5],"labels":false,"title":null}},"color":{"field":"m","type":"nominal","scale":{"domain":["m1","m2","m3","m4"],"range":["#f01818","#22dd22","#2a2aff","#333333"]},"legend":null},"strokeDash":{"field":"m","type":"nominal","scale":{"domain":["m1","m2","m3","m4"],"range":[[1,0],[5,2,1,2],[3,1.5,1,1.5,1,1.5],[5,3]]},"legend":null}}},
{"data":{"name":"points"},"transform":[{"filter":"datum.p=='0.1'"}],"mark":{"type":"rule","color":"#5a5aff","opacity":0.45,"strokeWidth":2,"clip":true},"encoding":{"x":{"field":"W","type":"quantitative","scale":{"domain":[1.7,2.5],"nice":false,"zero":false},"axis":{"orient":"top","values":[1.7,1.75,1.8,1.85,1.9,1.95,2.0,2.05,2.1,2.15,2.2,2.25,2.3,2.35,2.4,2.45,2.5],"labels":false,"title":null}},"y":{"field":"lo","type":"quantitative","scale":{"domain":[-1.5,1.5],"nice":false,"zero":false},"axis":{"orient":"right","values":[-1.5,-1,-0.5,0,0.5,1,1.5],"labels":false,"title":null}},"y2":{"field":"hi"}}},
{"data":{"name":"points"},"transform":[{"filter":"datum.p=='0.1'"}],"mark":{"type":"square","color":"#0000ff","size":14,"opacity":1,"clip":true},"encoding":{"x":{"field":"W","type":"quantitative","scale":{"domain":[1.7,2.5],"nice":false,"zero":false},"axis":null},"y":{"field":"C","type":"quantitative","scale":{"domain":[-1.5,1.5],"nice":false,"zero":false},"axis":null}}},
{"data":{"values":[{"label":"0.1"}]},"mark":{"type":"text","font":"Liberation Serif","fontSize":14,"align":"left","baseline":"middle","color":"black"},"encoding":{"x":{"datum":1.822,"type":"quantitative","scale":{"domain":[1.7,2.5],"nice":false,"zero":false},"axis":null},"y":{"datum":0.7,"type":"quantitative","scale":{"domain":[-1.5,1.5],"nice":false,"zero":false},"axis":null},"text":{"field":"label"}}}
],"resolve":{"axis":{"x":"independent","y":"independent"}}},
{"width":107.3,"height":80.5,"layer":[
{"data":{"name":"grid"},"mark":{"type":"rule","color":"#8a8a8a","strokeDash":[1,2],"strokeWidth":0.8},"encoding":{"y":{"field":"g","type":"quantitative","scale":{"domain":[-1.5,1.5],"nice":false,"zero":false},"axis":null}}},
{"data":{"name":"curves"},"transform":[{"filter":"datum.p=='0.4'"}],"mark":{"type":"line","interpolate":"monotone","strokeWidth":1.2,"clip":true},"encoding":{"x":{"field":"W","type":"quantitative","scale":{"domain":[1.7,2.5],"nice":false,"zero":false},"axis":{"orient":"bottom","values":[1.7,1.75,1.8,1.85,1.9,1.95,2.0,2.05,2.1,2.15,2.2,2.25,2.3,2.35,2.4,2.45,2.5],"labelExpr":"(round(datum.value*10) % 2 == 1 && abs(datum.value*10-round(datum.value*10)) < 0.01) ? format(datum.value,'.1f') : ''","title":"W (GeV)","titleX":107.3,"titleY":20,"titleAlign":"center","titleBaseline":"top"}},"y":{"field":"C","type":"quantitative","scale":{"domain":[-1.5,1.5],"nice":false,"zero":false},"axis":{"orient":"left","values":[-1.5,-1,-0.5,0,0.5,1,1.5],"title":null,"labelExpr":"datum.value > 1.4 ? '' : format(datum.value,'.1f')"}},"color":{"field":"m","type":"nominal","scale":{"domain":["m1","m2","m3","m4"],"range":["#f01818","#22dd22","#2a2aff","#333333"]},"legend":null},"strokeDash":{"field":"m","type":"nominal","scale":{"domain":["m1","m2","m3","m4"],"range":[[1,0],[5,2,1,2],[3,1.5,1,1.5,1,1.5],[5,3]]},"legend":null}}},
{"data":{"name":"points"},"transform":[{"filter":"datum.p=='0.4'"}],"mark":{"type":"rule","color":"#5a5aff","opacity":0.45,"strokeWidth":2,"clip":true},"encoding":{"x":{"field":"W","type":"quantitative","scale":{"domain":[1.7,2.5],"nice":false,"zero":false},"axis":{"orient":"top","values":[1.7,1.75,1.8,1.85,1.9,1.95,2.0,2.05,2.1,2.15,2.2,2.25,2.3,2.35,2.4,2.45,2.5],"labels":false,"title":null}},"y":{"field":"lo","type":"quantitative","scale":{"domain":[-1.5,1.5],"nice":false,"zero":false},"axis":{"orient":"right","values":[-1.5,-1,-0.5,0,0.5,1,1.5],"labels":false,"title":null}},"y2":{"field":"hi"}}},
{"data":{"name":"points"},"transform":[{"filter":"datum.p=='0.4'"}],"mark":{"type":"square","color":"#0000ff","size":14,"opacity":1,"clip":true},"encoding":{"x":{"field":"W","type":"quantitative","scale":{"domain":[1.7,2.5],"nice":false,"zero":false},"axis":null},"y":{"field":"C","type":"quantitative","scale":{"domain":[-1.5,1.5],"nice":false,"zero":false},"axis":null}}},
{"data":{"values":[{"label":"0.4"}]},"mark":{"type":"text","font":"Liberation Serif","fontSize":14,"align":"left","baseline":"middle","color":"black"},"encoding":{"x":{"datum":1.829,"type":"quantitative","scale":{"domain":[1.7,2.5],"nice":false,"zero":false},"axis":null},"y":{"datum":0.7,"type":"quantitative","scale":{"domain":[-1.5,1.5],"nice":false,"zero":false},"axis":null},"text":{"field":"label"}}}
],"resolve":{"axis":{"x":"independent","y":"independent"}}},
{"width":107.3,"height":80.5,"layer":[
{"data":{"name":"grid"},"mark":{"type":"rule","color":"#8a8a8a","strokeDash":[1,2],"strokeWidth":0.8},"encoding":{"y":{"field":"g","type":"quantitative","scale":{"domain":[-1.5,1.5],"nice":false,"zero":false},"axis":null}}},
{"data":{"name":"curves"},"transform":[{"filter":"datum.p=='0.7'"}],"mark":{"type":"line","interpolate":"monotone","strokeWidth":1.2,"clip":true},"encoding":{"x":{"field":"W","type":"quantitative","scale":{"domain":[1.7,2.5],"nice":false,"zero":false},"axis":{"orient":"bottom","values":[1.7,1.75,1.8,1.85,1.9,1.95,2.0,2.05,2.1,2.15,2.2,2.25,2.3,2.35,2.4,2.45,2.5],"labelExpr":"(datum.value > 1.8 && round(datum.value*10) % 2 == 1 && abs(datum.value*10-round(datum.value*10)) < 0.01) ? format(datum.value,'.1f') : ''","title":null}},"y":{"field":"C","type":"quantitative","scale":{"domain":[-1.5,1.5],"nice":false,"zero":false},"axis":{"orient":"left","values":[-1.5,-1,-0.5,0,0.5,1,1.5],"labels":false,"title":null}},"color":{"field":"m","type":"nominal","scale":{"domain":["m1","m2","m3","m4"],"range":["#f01818","#22dd22","#2a2aff","#333333"]},"legend":null},"strokeDash":{"field":"m","type":"nominal","scale":{"domain":["m1","m2","m3","m4"],"range":[[1,0],[5,2,1,2],[3,1.5,1,1.5,1,1.5],[5,3]]},"legend":null}}},
{"data":{"name":"points"},"transform":[{"filter":"datum.p=='0.7'"}],"mark":{"type":"rule","color":"#5a5aff","opacity":0.45,"strokeWidth":2,"clip":true},"encoding":{"x":{"field":"W","type":"quantitative","scale":{"domain":[1.7,2.5],"nice":false,"zero":false},"axis":{"orient":"top","values":[1.7,1.75,1.8,1.85,1.9,1.95,2.0,2.05,2.1,2.15,2.2,2.25,2.3,2.35,2.4,2.45,2.5],"labels":false,"title":null}},"y":{"field":"lo","type":"quantitative","scale":{"domain":[-1.5,1.5],"nice":false,"zero":false},"axis":{"orient":"right","values":[-1.5,-1,-0.5,0,0.5,1,1.5],"labels":false,"title":null}},"y2":{"field":"hi"}}},
{"data":{"name":"points"},"transform":[{"filter":"datum.p=='0.7'"}],"mark":{"type":"square","color":"#0000ff","size":14,"opacity":1,"clip":true},"encoding":{"x":{"field":"W","type":"quantitative","scale":{"domain":[1.7,2.5],"nice":false,"zero":false},"axis":null},"y":{"field":"C","type":"quantitative","scale":{"domain":[-1.5,1.5],"nice":false,"zero":false},"axis":null}}},
{"data":{"values":[{"label":"0.7"}]},"mark":{"type":"text","font":"Liberation Serif","fontSize":14,"align":"left","baseline":"middle","color":"black"},"encoding":{"x":{"datum":1.822,"type":"quantitative","scale":{"domain":[1.7,2.5],"nice":false,"zero":false},"axis":null},"y":{"datum":0.7,"type":"quantitative","scale":{"domain":[-1.5,1.5],"nice":false,"zero":false},"axis":null},"text":{"field":"label"}}}
],"resolve":{"axis":{"x":"independent","y":"independent"}}}
]
}
